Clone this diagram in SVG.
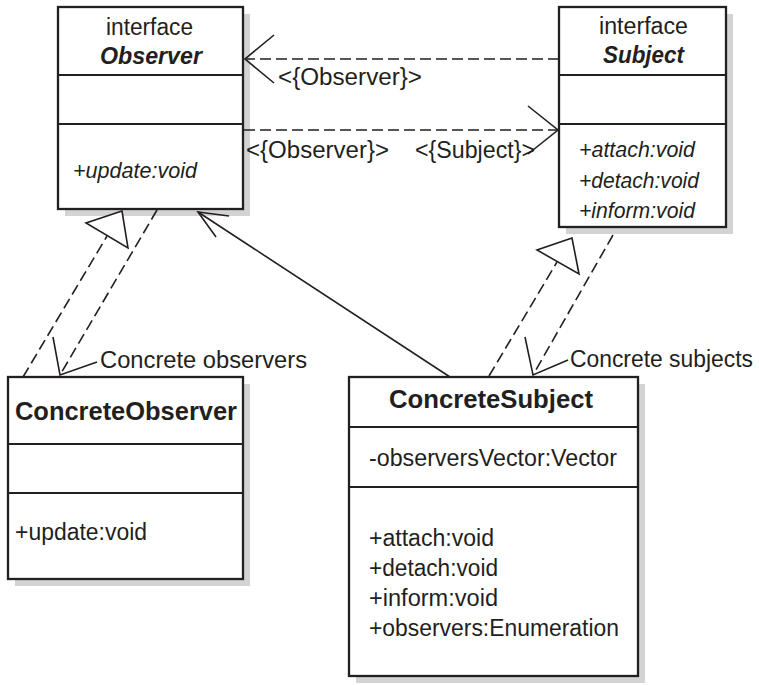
<svg xmlns="http://www.w3.org/2000/svg" width="759" height="685" viewBox="0 0 759 685">
<style>
  .shadow { fill: #d3d3d3; stroke: none; }
  .box { fill: #ffffff; stroke: #231f20; stroke-width: 2.3; }
  .div { stroke: #231f20; stroke-width: 2.2; fill: none; }
  text { font-family: "Liberation Sans", Arial, sans-serif; fill: #231f20; }
  .reg { font-size: 23px; }
  .it { font-size: 21.5px; font-style: italic; }
  .bi { font-size: 23px; font-style: italic; font-weight: bold; }
  .b { font-size: 25.5px; font-weight: bold; }
  .dash { stroke: #231f20; stroke-width: 1.6; fill: none; stroke-dasharray: 11 5; }
  .solid { stroke: #231f20; stroke-width: 1.6; fill: none; }
  .tri { stroke: #231f20; stroke-width: 1.6; fill: #ffffff; }
</style>
<rect width="759" height="685" fill="#ffffff"/>

<g id="node-observer">
  <rect class="shadow" x="65" y="14" width="185" height="202"/>
  <rect class="box" x="58" y="7" width="185" height="202"/>
  <line class="div" x1="58" y1="75" x2="243" y2="75"/>
  <line class="div" x1="58" y1="124" x2="243" y2="124"/>
  <text class="reg" x="106" y="35" textLength="87" lengthAdjust="spacingAndGlyphs">interface</text>
  <text class="bi" x="100" y="64" textLength="102" lengthAdjust="spacingAndGlyphs">Observer</text>
  <text class="it" x="73" y="178" textLength="124" lengthAdjust="spacingAndGlyphs">+update:void</text>
</g>

<g id="node-subject">
  <rect class="shadow" x="566" y="14" width="167" height="220"/>
  <rect class="box" x="559" y="7" width="167" height="220"/>
  <line class="div" x1="559" y1="75" x2="726" y2="75"/>
  <line class="div" x1="559" y1="124" x2="726" y2="124"/>
  <text class="reg" x="599" y="34" textLength="89" lengthAdjust="spacingAndGlyphs">interface</text>
  <text class="bi" x="603" y="63" textLength="81" lengthAdjust="spacingAndGlyphs">Subject</text>
  <text class="it" x="579" y="157" textLength="116" lengthAdjust="spacingAndGlyphs">+attach:void</text>
  <text class="it" x="579" y="188" textLength="120" lengthAdjust="spacingAndGlyphs">+detach:void</text>
  <text class="it" x="579" y="218" textLength="116" lengthAdjust="spacingAndGlyphs">+inform:void</text>
</g>

<g id="node-concrete-observer">
  <rect class="shadow" x="15" y="384" width="235" height="202"/>
  <rect class="box" x="8" y="377" width="235" height="202"/>
  <line class="div" x1="8" y1="444" x2="243" y2="444"/>
  <line class="div" x1="8" y1="493" x2="243" y2="493"/>
  <text class="b" x="15" y="420" textLength="222" lengthAdjust="spacingAndGlyphs">ConcreteObserver</text>
  <text class="reg" x="15" y="540" textLength="132" lengthAdjust="spacingAndGlyphs">+update:void</text>
</g>

<g id="node-concrete-subject">
  <rect class="shadow" x="356" y="384" width="289" height="299"/>
  <rect class="box" x="349" y="377" width="289" height="299"/>
  <line class="div" x1="349" y1="427" x2="638" y2="427"/>
  <line class="div" x1="349" y1="487" x2="638" y2="487"/>
  <text class="b" x="389" y="408" textLength="204" lengthAdjust="spacingAndGlyphs">ConcreteSubject</text>
  <text class="reg" x="369" y="466" textLength="248" lengthAdjust="spacingAndGlyphs">-observersVector:Vector</text>
  <text class="reg" x="369" y="546" textLength="125" lengthAdjust="spacingAndGlyphs">+attach:void</text>
  <text class="reg" x="369" y="576" textLength="129" lengthAdjust="spacingAndGlyphs">+detach:void</text>
  <text class="reg" x="369" y="606" textLength="129" lengthAdjust="spacingAndGlyphs">+inform:void</text>
  <text class="reg" x="369" y="636" textLength="250" lengthAdjust="spacingAndGlyphs">+observers:Enumeration</text>
</g>

<g id="connectors">
  <!-- Subject -> Observer dependency (top) -->
  <line class="dash" x1="559" y1="59" x2="245" y2="59"/>
  <polyline class="solid" points="274,35 245,59 274,83"/>
  <text class="reg" x="278" y="85" textLength="144" lengthAdjust="spacingAndGlyphs">&lt;{Observer}&gt;</text>

  <!-- Observer -> Subject dependency (bottom) -->
  <line class="dash" x1="244" y1="130" x2="557" y2="130"/>
  <polyline class="solid" points="528,106 558,130 528,154"/>
  <text class="reg" x="246" y="158" textLength="143" lengthAdjust="spacingAndGlyphs">&lt;{Observer}&gt;</text>
  <text class="reg" x="415" y="158" textLength="120" lengthAdjust="spacingAndGlyphs">&lt;{Subject}&gt;</text>

  <!-- ConcreteObserver realizes Observer -->
  <line class="dash" x1="23" y1="377" x2="107" y2="236"/>
  <polygon class="tri" points="122,211 86,223 128,248"/>

  <!-- Observer -> ConcreteObserver dependency -->
  <line class="dash" x1="157" y1="210" x2="60" y2="375"/>
  <polyline class="solid" points="53,337 60,375 97,362"/>
  <text class="reg" x="100" y="368" textLength="207" lengthAdjust="spacingAndGlyphs">Concrete observers</text>

  <!-- ConcreteSubject -> Observer association -->
  <line class="solid" x1="450" y1="377" x2="198" y2="212"/>
  <polyline class="solid" points="229,216 198,212 216,237"/>

  <!-- ConcreteSubject realizes Subject -->
  <line class="dash" x1="489" y1="376" x2="557" y2="262"/>
  <polygon class="tri" points="572,238 537,250 579,274"/>

  <!-- Subject -> ConcreteSubject dependency -->
  <line class="dash" x1="613" y1="235" x2="533" y2="375"/>
  <polyline class="solid" points="525,337 533,375 568,360"/>
  <text class="reg" x="570" y="367" textLength="183" lengthAdjust="spacingAndGlyphs">Concrete subjects</text>
</g>
</svg>
